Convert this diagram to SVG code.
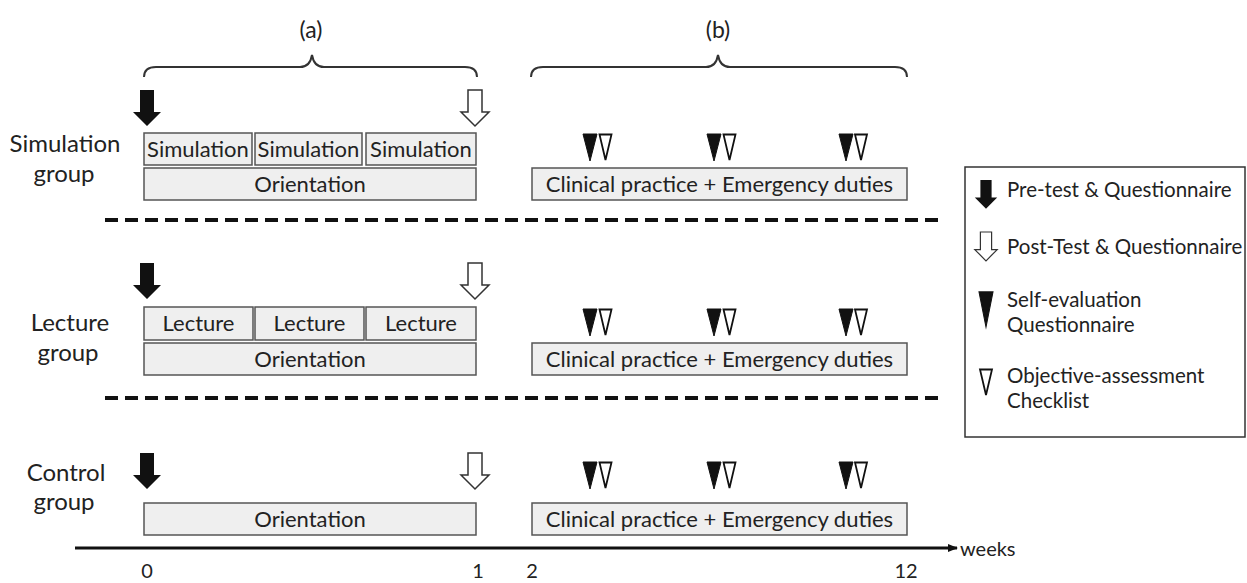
<svg xmlns="http://www.w3.org/2000/svg" width="1247" height="583" viewBox="0 0 1247 583">
<style>
text{font-family:Lato,"Open Sans","Liberation Sans",sans-serif;fill:#222}
.lbl{font-size:24px;text-anchor:middle}
.hd{font-size:23px;text-anchor:middle}
.bt{font-size:22px;text-anchor:middle}
.num{font-size:20px;text-anchor:middle}
.box{fill:#efefef;stroke:#555;stroke-width:1.5}
.lg{font-size:20.5px}
.brace{fill:none;stroke:#333;stroke-width:2}
.dash{stroke:#111;stroke-width:4;stroke-dasharray:13 7}
</style>
<defs>
<path id="barr" d="M-7,0 H7 V22 H14 L0,36 L-14,22 H-7 Z" fill="#111"/>
<path id="warr" d="M-7,0 H7 V22 H14 L0,36 L-14,22 H-7 Z" fill="#fff" stroke="#333" stroke-width="1.5"/>
<path id="btri" d="M-7,0 L7,0 L0,27 Z" fill="#111" stroke="#111" stroke-width="1"/>
<path id="wtri" d="M-6,0.5 L6,0.5 L0,26 Z" fill="#fff" stroke="#111" stroke-width="1.8"/>
<marker id="ah" markerWidth="10" markerHeight="10" refX="9" refY="5" orient="auto" markerUnits="userSpaceOnUse"><path d="M0,1 L10,5 L0,9 Z" fill="#111"/></marker>
</defs>

<g id="headers">
<text x="311" y="38" class="hd">(a)</text>
<text x="718" y="38" class="hd">(b)</text>
<path class="brace" d="M144,77 Q144,67 156,67 L300,67 Q310,67 312,55 Q314,67 324,67 L465,67 Q477,67 477,77"/>
<path class="brace" d="M531,77 Q531,67 543,67 L706,67 Q716,67 718,55 Q720,67 730,67 L895,67 Q907,67 907,77"/>
</g>

<g id="simulation-group">
<text x="65" y="152" class="lbl">Simulation</text>
<text x="64" y="182" class="lbl">group</text>
<use href="#barr" x="147" y="90"/>
<use href="#warr" x="475" y="90"/>
<rect class="box" x="144" y="133" width="108" height="32"/>
<rect class="box" x="255" y="133" width="107" height="32"/>
<rect class="box" x="366" y="133" width="110" height="32"/>
<text x="198" y="157" class="bt">Simulation</text>
<text x="308.5" y="157" class="bt">Simulation</text>
<text x="421" y="157" class="bt">Simulation</text>
<rect class="box" x="144" y="168" width="332" height="32"/>
<text x="310" y="192" class="bt">Orientation</text>
<use href="#btri" x="590" y="134"/><use href="#wtri" x="605.5" y="134"/>
<use href="#btri" x="714" y="134"/><use href="#wtri" x="729.5" y="134"/>
<use href="#btri" x="846" y="134"/><use href="#wtri" x="861" y="134"/>
<rect class="box" x="532" y="168" width="375" height="32"/>
<text x="719.5" y="192" class="bt">Clinical practice + Emergency duties</text>
</g>

<g id="lecture-group">
<text x="70" y="331" class="lbl">Lecture</text>
<text x="68" y="361" class="lbl">group</text>
<use href="#barr" x="147" y="263"/>
<use href="#warr" x="475" y="263"/>
<rect class="box" x="144" y="307" width="109" height="33"/>
<rect class="box" x="255" y="307" width="109" height="33"/>
<rect class="box" x="366" y="307" width="110" height="33"/>
<text x="198.5" y="331" class="bt">Lecture</text>
<text x="309.5" y="331" class="bt">Lecture</text>
<text x="421" y="331" class="bt">Lecture</text>
<rect class="box" x="144" y="343" width="332" height="32"/>
<text x="310" y="367" class="bt">Orientation</text>
<use href="#btri" x="590" y="309"/><use href="#wtri" x="605.5" y="309"/>
<use href="#btri" x="714" y="309"/><use href="#wtri" x="729.5" y="309"/>
<use href="#btri" x="846" y="309"/><use href="#wtri" x="861" y="309"/>
<rect class="box" x="532" y="343" width="375" height="32"/>
<text x="719.5" y="367" class="bt">Clinical practice + Emergency duties</text>
</g>

<g id="control-group">
<text x="66" y="481" class="lbl">Control</text>
<text x="64" y="510" class="lbl">group</text>
<use href="#barr" x="147" y="453"/>
<use href="#warr" x="475" y="453"/>
<rect class="box" x="144" y="503" width="332" height="32"/>
<text x="310" y="527" class="bt">Orientation</text>
<use href="#btri" x="590" y="462"/><use href="#wtri" x="605.5" y="462"/>
<use href="#btri" x="714" y="462"/><use href="#wtri" x="729.5" y="462"/>
<use href="#btri" x="846" y="462"/><use href="#wtri" x="861" y="462"/>
<rect class="box" x="532" y="503" width="375" height="32"/>
<text x="719.5" y="527" class="bt">Clinical practice + Emergency duties</text>
</g>

<g id="connectors">
<line class="dash" x1="105" y1="220" x2="945" y2="220"/>
<line class="dash" x1="105" y1="398" x2="945" y2="398"/>
<line x1="75" y1="548" x2="957" y2="548" stroke="#111" stroke-width="3" marker-end="url(#ah)"/>
</g>

<g id="axis-labels">
<text x="960" y="556" font-size="20px">weeks</text>
<text x="147" y="578" class="num">0</text>
<text x="478" y="578" class="num">1</text>
<text x="532" y="578" class="num">2</text>
<text x="906" y="578" class="num">12</text>
</g>

<g id="legend">
<rect x="965" y="167" width="280" height="270" fill="#fff" stroke="#333" stroke-width="1.5"/>
<use href="#barr" x="986" y="180" transform="translate(986,180) scale(0.8) translate(-986,-180)"/>
<text x="1007" y="197" class="lg">Pre-test &amp; Questionnaire</text>
<use href="#warr" x="986" y="232" transform="translate(986,232) scale(0.8) translate(-986,-232)"/>
<text x="1007" y="254" class="lg">Post-Test &amp; Questionnaire</text>
<use href="#btri" x="986" y="292" transform="translate(986,292) scale(1,1.3) translate(-986,-292)"/>
<text x="1007" y="307" class="lg">Self-evaluation</text>
<text x="1007" y="332" class="lg">Questionnaire</text>
<use href="#wtri" x="986" y="369"/>
<text x="1007" y="383" class="lg">Objective-assessment</text>
<text x="1007" y="408" class="lg">Checklist</text>
</g>
</svg>
